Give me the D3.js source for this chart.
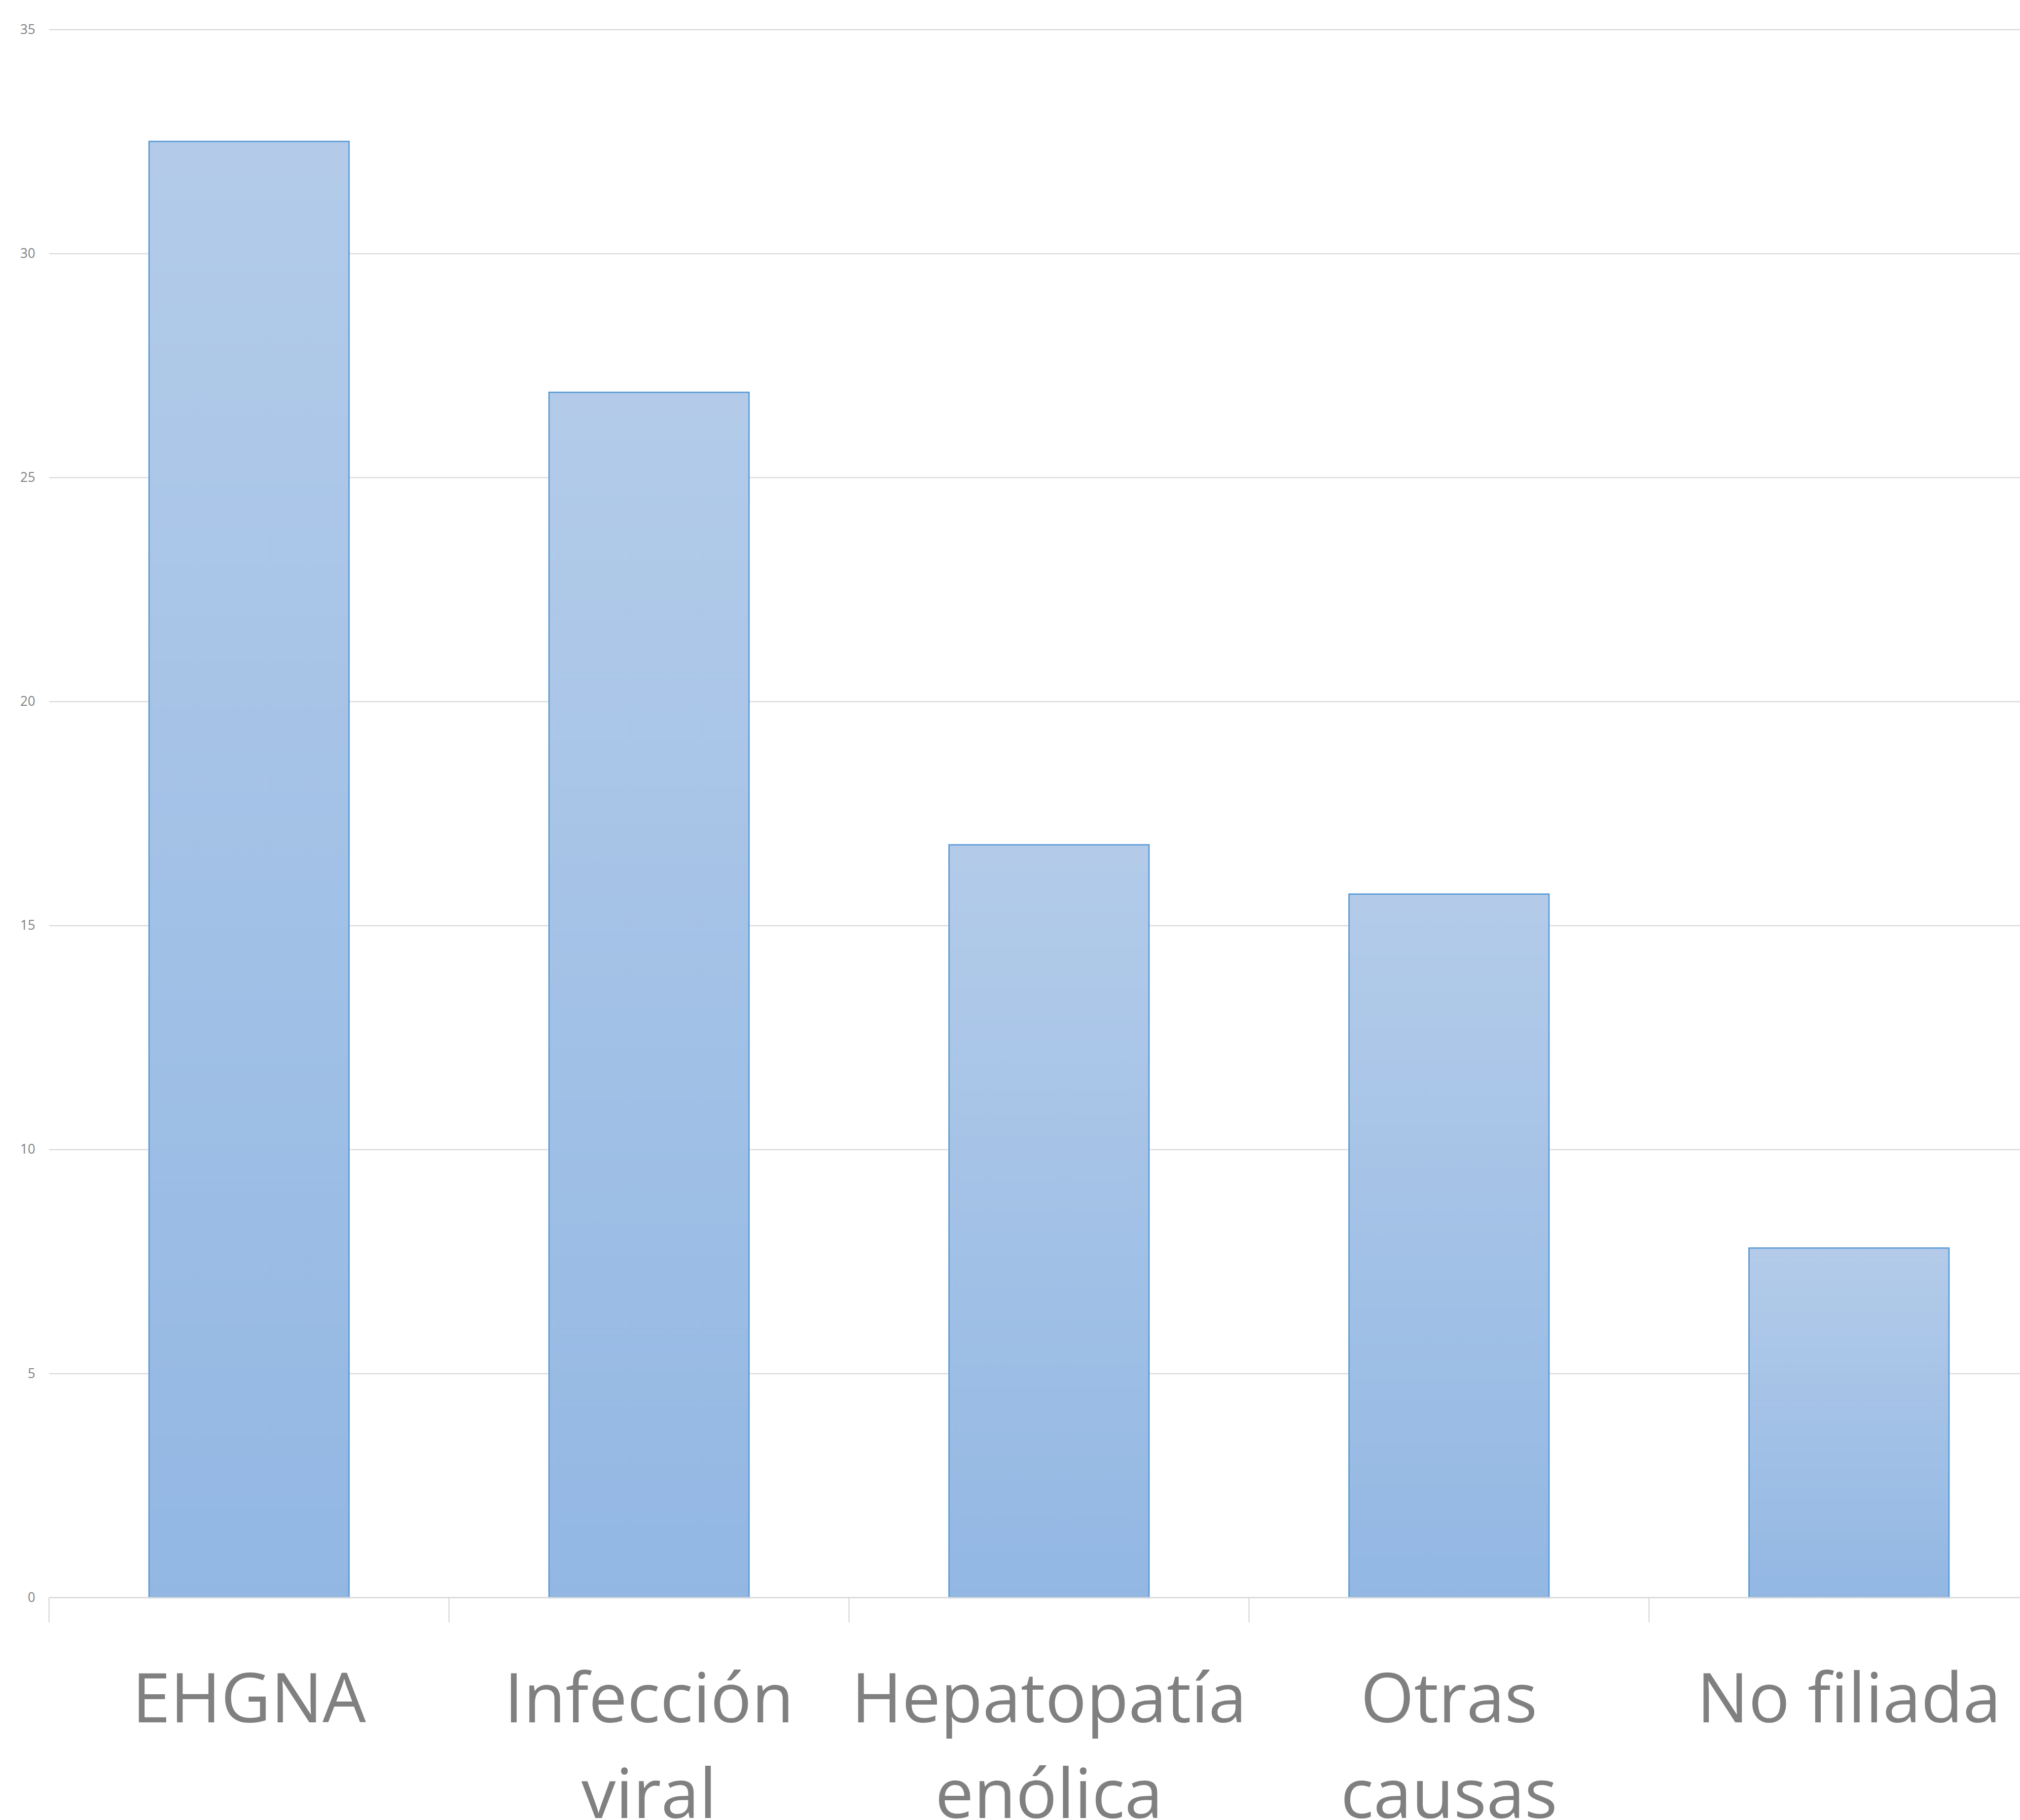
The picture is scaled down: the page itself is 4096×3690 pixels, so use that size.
<!DOCTYPE html>
<html>
<head>
<meta charset="utf-8">
<script src="https://cdn.jsdelivr.net/npm/d3@7"></script>
<style>
  html, body { margin: 0; padding: 0; background: #ffffff; }
  svg { display: block; }
</style>
</head>
<body>
<svg id="chart" width="4096" height="3690"></svg>
<script>
// Causes of liver disease (%)
const categories = ["EHGNA", "Infección viral", "Hepatopatía enólica", "Otras causas", "No filiada"];
const labelLines = [["EHGNA"], ["Infección", "viral"], ["Hepatopatía", "enólica"], ["Otras", "causas"], ["No filiada"]];
const values = [32.5, 26.9, 16.8, 15.7, 7.8];
const yTicks = [0, 5, 10, 15, 20, 25, 30, 35];

// Layout is authored on a 4530 x 4081 canvas and scaled down to the window
const W = 4530, H = 4081;
const k = 4096 / W;

const svg = d3.select("#chart");
const defs = svg.append("defs");
const grad = defs.append("linearGradient")
  .attr("id", "barFill")
  .attr("x1", 0).attr("y1", 0).attr("x2", 0).attr("y2", 1);
grad.append("stop").attr("offset", "0%").attr("stop-color", "#b3cbe9");
grad.append("stop").attr("offset", "100%").attr("stop-color", "#92b7e3");

const g = svg.append("g").attr("transform", `scale(${k})`);

const plot = { left: 110, top: 66, bottom: 3582 };
const step = 897;

const x = d3.scaleBand()
  .domain(categories)
  .range([plot.left, plot.left + step * categories.length])
  .paddingInner(0.5)
  .paddingOuter(0.25);

const y = d3.scaleLinear()
  .domain([0, 35])
  .range([plot.bottom, plot.top]);

const textGray = "#808080";
const gridGray = "#d9d9d9";

// Horizontal gridlines with value labels
const yAxis = d3.axisLeft(y)
  .tickValues(yTicks)
  .tickFormat(d3.format("d"))
  .tickSizeInner(-(step * categories.length))
  .tickSizeOuter(0)
  .tickPadding(31);

const yg = g.append("g")
  .attr("transform", `translate(${plot.left},0)`)
  .call(yAxis);
yg.select(".domain").remove();
yg.selectAll(".tick line")
  .attr("stroke", gridGray)
  .attr("stroke-width", 2.5);
yg.selectAll(".tick text")
  .attr("fill", textGray)
  .attr("font-family", "'Open Sans', sans-serif")
  .attr("font-size", 29.5);

// Bars
g.append("g").selectAll("rect")
  .data(values)
  .join("rect")
  .attr("x", (d, i) => x(categories[i]))
  .attr("y", d => y(d))
  .attr("width", x.bandwidth())
  .attr("height", d => y(0) - y(d))
  .attr("fill", "url(#barFill)")
  .attr("stroke", "#5b9bd5")
  .attr("stroke-width", 3);

// Category axis: baseline and boundary ticks
const boundaries = d3.range(categories.length + 1).map(i => plot.left + i * x.step());
const xg = g.append("g");
xg.append("line")
  .attr("x1", plot.left)
  .attr("x2", plot.left + step * categories.length)
  .attr("y1", y(0)).attr("y2", y(0))
  .attr("stroke", gridGray)
  .attr("stroke-width", 2.5);
xg.selectAll("line.bound")
  .data(boundaries)
  .join("line")
  .attr("class", "bound")
  .attr("x1", d => d).attr("x2", d => d)
  .attr("y1", y(0)).attr("y2", y(0) + 56)
  .attr("stroke", gridGray)
  .attr("stroke-width", 2.5);

// Category labels
const labels = g.append("g")
  .attr("font-family", "'Open Sans', sans-serif")
  .attr("font-size", 154)
  .attr("fill", textGray)
  .attr("text-anchor", "middle");

categories.forEach((c, i) => {
  const cx = x(c) + x.bandwidth() / 2;
  const t = labels.append("text").attr("x", cx).attr("y", 3862);
  labelLines[i].forEach((line, j) => {
    t.append("tspan")
      .attr("x", cx)
      .attr("y", 3862 + j * 215)
      .text(line);
  });
});
</script>
</body>
</html>
